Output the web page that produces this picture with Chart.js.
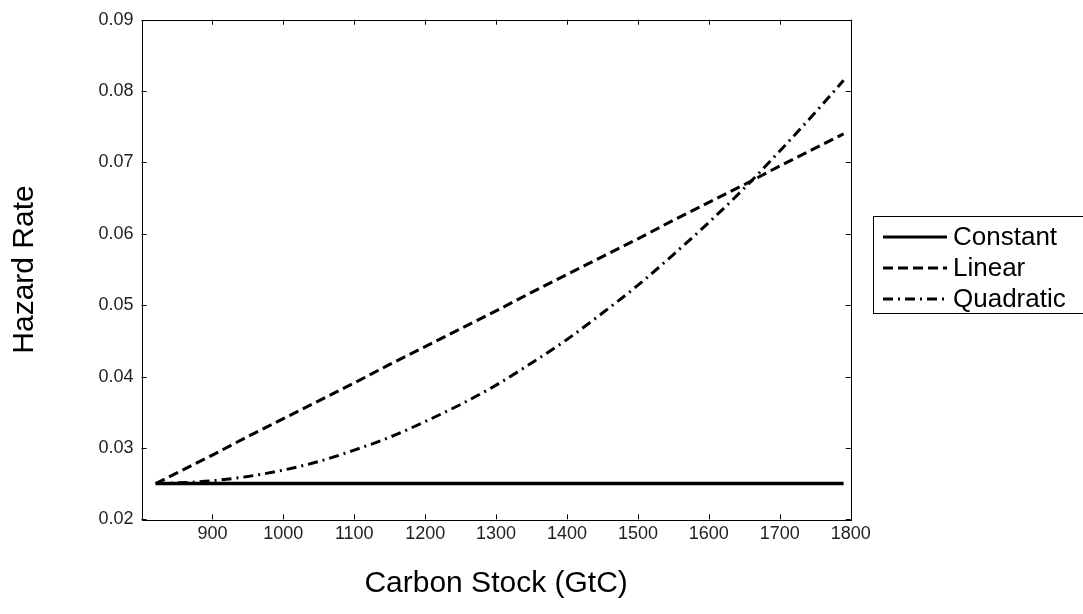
<!DOCTYPE html>
<html>
<head>
<meta charset="utf-8">
<script src="https://cdn.jsdelivr.net/npm/chart.js@4.4.1/dist/chart.umd.min.js"></script>
<style>
  html, body { margin: 0; padding: 0; background: #fff; }
  #wrap { width: 1083px; height: 614px; position: relative; }
</style>
</head>
<body>
<div id="wrap"><canvas id="c" width="1083" height="614"></canvas></div>
<script>
const carbonStock = [820, 850, 900, 950, 1000, 1050, 1100, 1150, 1200, 1250, 1300, 1350, 1400, 1450, 1500, 1550, 1600, 1650, 1700, 1750, 1790];
const constantRate = [0.025, 0.025, 0.025, 0.025, 0.025, 0.025, 0.025, 0.025, 0.025, 0.025, 0.025, 0.025, 0.025, 0.025, 0.025, 0.025, 0.025, 0.025, 0.025, 0.025, 0.025];
const linearRate = [0.0250, 0.0265, 0.0290, 0.0316, 0.0341, 0.0366, 0.0391, 0.0417, 0.0442, 0.0467, 0.0492, 0.0518, 0.0543, 0.0568, 0.0593, 0.0619, 0.0644, 0.0669, 0.0695, 0.0720, 0.0740];
const quadraticRate = [0.0250, 0.0251, 0.0254, 0.0260, 0.0269, 0.0281, 0.0297, 0.0315, 0.0337, 0.0361, 0.0388, 0.0419, 0.0452, 0.0489, 0.0528, 0.0571, 0.0616, 0.0664, 0.0716, 0.0770, 0.0815];
const seriesNames = ['Constant', 'Linear', 'Quadratic'];
const xTicks = [900, 1000, 1100, 1200, 1300, 1400, 1500, 1600, 1700, 1800];
const yTicks = [0.02, 0.03, 0.04, 0.05, 0.06, 0.07, 0.08, 0.09];

const FONT = '"Liberation Sans", Arial, Helvetica, sans-serif';
const dashes = [[], [10, 5], [10, 5, 2, 5]];
const widths = [3.5, 3, 3];

function pts(vals) { return carbonStock.map((x, i) => ({ x: x, y: vals[i] })); }

const frameAndLegend = {
  id: 'frameAndLegend',
  afterDraw(chart) {
    const ctx = chart.ctx;
    const a = chart.chartArea;
    const xs = chart.scales.x, ys = chart.scales.y;
    ctx.save();
    ctx.strokeStyle = '#000';
    ctx.lineWidth = 1;
    ctx.strokeRect(Math.round(a.left) + 0.5, Math.round(a.top) + 0.5, Math.round(a.right - a.left), Math.round(a.bottom - a.top));
    const tl = 5;
    ctx.beginPath();
    xTicks.forEach(v => {
      const px = Math.round(xs.getPixelForValue(v)) + 0.5;
      ctx.moveTo(px, a.bottom); ctx.lineTo(px, a.bottom - tl);
      ctx.moveTo(px, a.top); ctx.lineTo(px, a.top + tl);
    });
    yTicks.forEach(v => {
      const py = Math.round(ys.getPixelForValue(v)) + 0.5;
      ctx.moveTo(a.left, py); ctx.lineTo(a.left + tl, py);
      ctx.moveTo(a.right, py); ctx.lineTo(a.right - tl, py);
    });
    ctx.stroke();

    const lx = 873.5, ly = 216.5, lw = 230, lh = 97;
    ctx.strokeRect(lx, ly, lw, lh);
    const rows = [237, 268, 299];
    ctx.font = '26px ' + FONT;
    ctx.fillStyle = '#000';
    ctx.textBaseline = 'middle';
    ctx.textAlign = 'left';
    chart.data.datasets.forEach((ds, i) => {
      ctx.save();
      ctx.lineWidth = 3;
      ctx.setLineDash(dashes[i]);
      ctx.beginPath();
      ctx.moveTo(883, rows[i]);
      ctx.lineTo(947, rows[i]);
      ctx.stroke();
      ctx.restore();
      ctx.fillText(ds.label, 953, rows[i] + 1);
    });
    ctx.restore();
  }
};

new Chart(document.getElementById('c'), {
  type: 'line',
  data: {
    datasets: [
      { label: seriesNames[0], data: pts(constantRate), borderColor: '#000', borderWidth: widths[0], borderDash: dashes[0], pointRadius: 0, fill: false },
      { label: seriesNames[1], data: pts(linearRate), borderColor: '#000', borderWidth: widths[1], borderDash: dashes[1], pointRadius: 0, fill: false },
      { label: seriesNames[2], data: pts(quadraticRate), borderColor: '#000', borderWidth: widths[2], borderDash: dashes[2], pointRadius: 0, fill: false, cubicInterpolationMode: 'monotone' }
    ]
  },
  options: {
    responsive: false,
    animation: false,
    events: [],
    layout: { padding: { left: 0, top: 19.7, right: 232.3, bottom: 0 } },
    plugins: { legend: { display: false }, tooltip: { enabled: false } },
    scales: {
      x: {
        type: 'linear', min: 800, max: 1800,
        afterFit: s => { s.height = 94.7; },
        afterBuildTicks: s => { s.ticks = xTicks.map(v => ({ value: v })); },
        grid: { display: false, drawTicks: false },
        border: { display: false },
        ticks: { padding: 4, color: '#222', font: { family: FONT, size: 18 }, callback: v => String(v), maxRotation: 0, autoSkip: false },
        title: { display: true, text: 'Carbon Stock (GtC)', color: '#000', font: { family: FONT, size: 30 }, padding: { top: 0, bottom: 12 } }
      },
      y: {
        type: 'linear', min: 0.02, max: 0.09,
        afterFit: s => { s.width = 141.5; },
        afterBuildTicks: s => { s.ticks = yTicks.map(v => ({ value: v })); },
        grid: { display: false, drawTicks: false },
        border: { display: false },
        ticks: { padding: 8, color: '#222', font: { family: FONT, size: 18 }, callback: v => v.toFixed(2), autoSkip: false },
        title: { display: true, text: 'Hazard Rate', color: '#000', font: { family: FONT, size: 30 }, padding: { top: 7, bottom: 0 } }
      }
    }
  },
  plugins: [frameAndLegend]
});
</script>
</body>
</html>
